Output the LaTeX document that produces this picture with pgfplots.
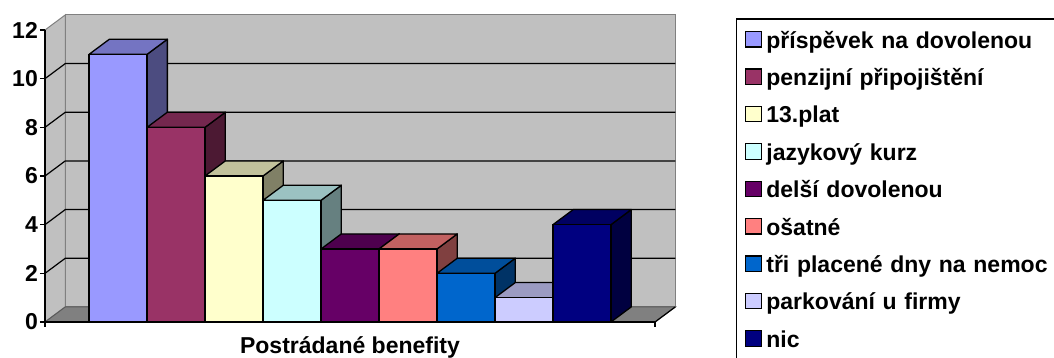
\documentclass[border=0pt]{standalone}
\usepackage{fontspec}
\setmainfont{Liberation Sans}
\usepackage{pgfplots}
\pgfplotsset{compat=1.18}

\definecolor{c1}{HTML}{9999FF}
\definecolor{c2}{HTML}{993366}
\definecolor{c3}{HTML}{FFFFCC}
\definecolor{c4}{HTML}{CCFFFF}
\definecolor{c5}{HTML}{660066}
\definecolor{c6}{HTML}{FF8080}
\definecolor{c7}{HTML}{0066CC}
\definecolor{c8}{HTML}{CCCCFF}
\definecolor{c9}{HTML}{000080}
\definecolor{wallc}{HTML}{C0C0C0}
\definecolor{floorc}{HTML}{808080}

\def\dx{0.35}
\def\dy{0.62}

% position, value, colour
\newcommand\drawbar[3]{%
  \pgfmathsetmacro\xl{#1-0.5}%
  \pgfmathsetmacro\xr{#1+0.5}%
  \pgfmathsetmacro\xld{#1-0.5+\dx}%
  \pgfmathsetmacro\xrd{#1+0.5+\dx}%
  \pgfmathsetmacro\vt{#2+\dy}%
  \addplot[forget plot, fill=#3!50!black, draw=black, line width=1.3pt, line join=round]
    coordinates {(\xr,0) (\xrd,\dy) (\xrd,\vt) (\xr,#2)} -- cycle;
  \addplot[forget plot, fill=#3!76!black, draw=black, line width=1.3pt, line join=round]
    coordinates {(\xl,#2) (\xr,#2) (\xrd,\vt) (\xld,\vt)} -- cycle;
  \addplot[ybar, bar width=1, bar shift=0pt, fill=#3, draw=black, line width=1.3pt,
    legend image code/.code={\draw[fill=#3,draw=black,line width=1.2pt] (0pt,-7.5pt) rectangle (16pt,8pt);}]
    coordinates {(#1,#2)};
}

\begin{document}
\begin{tikzpicture}
\useasboundingbox (0,0) rectangle (1054pt,358pt);
\begin{axis}[
  at={(45pt,36pt)}, anchor=south west,
  scale only axis, width=610pt, height=292pt,
  xmin=-1.26, xmax=9.26, ymin=0, ymax=12,
  clip=false, axis on top,
  axis x line=bottom, axis y line=left,
  axis line style={-, black, line width=1.3pt},
  xtick={-1.26,9.26}, xticklabels={},
  ytick={0,2,...,12},
  tick align=outside, major tick length=5pt,
  tick style={black, line width=1.3pt},
  /pgf/number format/assume math mode=true,
  yticklabel style={font=\fontsize{23}{23}\selectfont\bfseries, inner xsep=2pt},
  xlabel={Postrádané benefity},
  xlabel style={at={(axis description cs:0.5,0)}, anchor=base, yshift=-32pt,
    font=\fontsize{23}{23}\selectfont\bfseries},
  legend style={at={(1.132,1.040)}, anchor=north west, draw=black, line width=1.3pt,
    fill=white, font=\fontsize{23}{23}\selectfont\bfseries,
    inner xsep=8.5pt, inner ysep=12pt, row sep=20.3pt,
    nodes={text width=300pt, text height=17pt, text depth=0pt, inner ysep=0pt, inner xsep=4.5pt}},
  legend cell align=left,
]
% walls and floor
\addplot[forget plot, fill=wallc, draw=floorc, line width=1pt]
  coordinates {(-0.91,0.62) (9.61,0.62) (9.61,12.62) (-0.91,12.62)} -- cycle;
\addplot[forget plot, fill=wallc, draw=floorc, line width=1pt]
  coordinates {(-1.26,0) (-1.26,12) (-0.91,12.62) (-0.91,0.62)} -- cycle;
\addplot[forget plot, fill=floorc, draw=floorc!70!black, line width=1pt]
  coordinates {(-1.26,0) (9.26,0) (9.61,0.62) (-0.91,0.62)} -- cycle;
\addplot[forget plot, black, line width=1.2pt] coordinates {(9.26,0) (9.61,0.62)};
% gridlines
\pgfplotsinvokeforeach{2,4,6,8,10}{
  \pgfmathsetmacro\gy{#1+0.62}
  \addplot[forget plot, black, line width=1.2pt] coordinates {(-1.26,#1) (-0.91,\gy) (9.61,\gy)};
}
% bars
\drawbar{0}{11}{c1}
\drawbar{1}{8}{c2}
\drawbar{2}{6}{c3}
\drawbar{3}{5}{c4}
\drawbar{4}{3}{c5}
\drawbar{5}{3}{c6}
\drawbar{6}{2}{c7}
\drawbar{7}{1}{c8}
\drawbar{8}{4}{c9}
\addlegendimage{empty legend}
\legend{příspěvek na dovolenou, penzijní připojištění, 13.plat, jazykový kurz,
  delší dovolenou, ošatné, tři placené dny na nemoc, parkování u firmy, nic, \mbox{}}
\end{axis}
\end{tikzpicture}
\end{document}
